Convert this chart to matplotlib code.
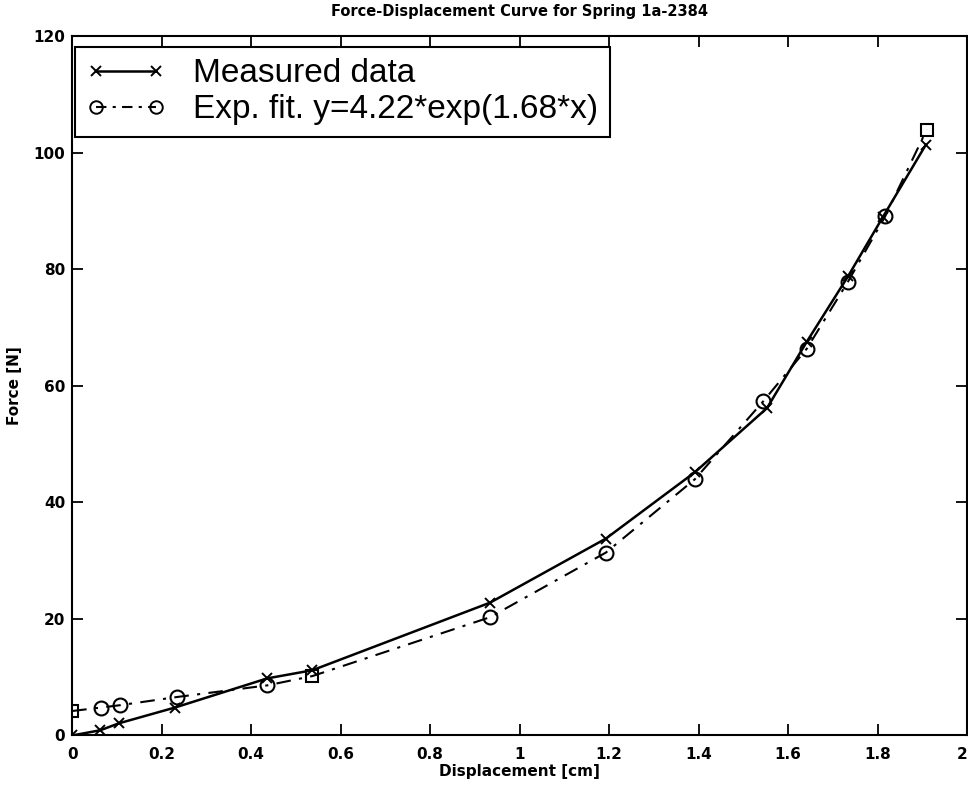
import matplotlib.pyplot as plt
import numpy as np

# spring test: displacement [cm] vs force [N]
disp = [0.0, 0.063, 0.105, 0.23, 0.436, 0.537, 0.934, 1.193, 1.392, 1.553, 1.642, 1.734, 1.812, 1.908]
force = [0.0, 0.9, 2.1, 4.8, 9.8, 11.2, 22.8, 33.8, 45.2, 56.2, 67.6, 78.8, 89.0, 101.4]

# exponential fit evaluated at the same displacements
fit_disp = [0.0, 0.065, 0.107, 0.234, 0.436, 0.537, 0.934, 1.193, 1.392, 1.545, 1.642, 1.734, 1.817, 1.91]
fit_force = [4.2, 4.8, 5.2, 6.6, 8.6, 10.2, 20.3, 31.4, 44.0, 57.4, 66.4, 77.9, 89.1, 104.0]

# fit points drawn as squares instead of circles
square_idx = [0, 5, 13]

x_ticks = np.arange(0, 2.01, 0.2)
x_tick_labels = ["0", "0.2", "0.4", "0.6", "0.8", "1", "1.2", "1.4", "1.6", "1.8", "2"]
y_ticks = np.arange(0, 121, 20)

fig = plt.figure(figsize=(9.68, 7.9), dpi=100)
ax = fig.add_axes([0.0745, 0.069, 0.9245, 0.885])

ax.plot(disp, force, "k-", marker="x", ms=7, mew=1.4, lw=1.8)

circ = [i for i in range(len(fit_disp)) if i not in square_idx]
ax.plot(fit_disp, fit_force, color="k", ls=(0, (7, 4, 1.5, 4)), lw=1.5)
ax.plot([fit_disp[i] for i in circ], [fit_force[i] for i in circ], ls="none",
        marker="o", ms=10, mfc="none", mec="k", mew=1.5)
ax.plot([fit_disp[i] for i in square_idx], [fit_force[i] for i in square_idx], ls="none",
        marker="s", ms=9, mfc="none", mec="k", mew=1.5)

ax.set_xlim(0, 2)
ax.set_ylim(0, 120)
ax.set_xticks(x_ticks)
ax.set_xticklabels(x_tick_labels)
ax.set_yticks(y_ticks)
ax.tick_params(direction="in", length=8, width=1.3, top=True, right=True, labelsize=11)
ax.tick_params(axis="x", pad=8)
ax.tick_params(axis="y", pad=5)
for lab in ax.get_xticklabels() + ax.get_yticklabels():
    lab.set_fontweight("bold")
ax.get_xticklabels()[-1].set_horizontalalignment("right")
for sp in ax.spines.values():
    sp.set_linewidth(1.5)

ax.set_xlabel("Displacement [cm]", fontsize=11, fontweight="bold", labelpad=2)
ax.set_ylabel("Force [N]", fontsize=11, fontweight="bold", labelpad=8)
ax.set_title("Force-Displacement Curve for Spring 1a-2384",
             fontsize=10.5, fontweight="bold", pad=15)

# legend handles combining line style and markers
h1 = plt.Line2D([], [], color="k", lw=1.8, marker="x", ms=7, mew=1.4)
h2 = plt.Line2D([], [], color="k", lw=1.5, ls=(0, (5, 3, 1.5, 3)), marker="o", ms=9,
                mfc="none", mew=1.4)
leg = ax.legend([h1, h2], ["Measured data", "Exp. fit. y=4.22*exp(1.68*x)"],
                loc="upper left", bbox_to_anchor=(0.003, 0.985),
                prop={"family": "Liberation Sans", "size": 24},
                numpoints=2, handlelength=2.4, handletextpad=0.8,
                labelspacing=0.15, borderpad=0.35, borderaxespad=0.0,
                fancybox=False, framealpha=1, edgecolor="k")
leg.get_frame().set_linewidth(1.5)

fig.savefig("out.png", dpi=100)
